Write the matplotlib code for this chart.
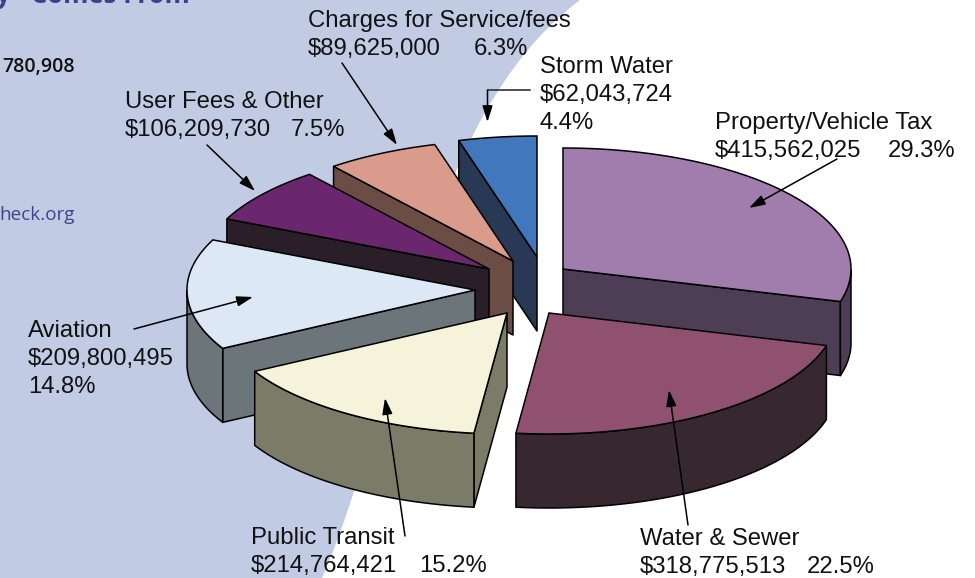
import numpy as np
from matplotlib import pyplot as plt
from matplotlib.patches import Polygon, PathPatch
from matplotlib.path import Path

names = ['Property/Vehicle Tax', 'Water & Sewer', 'Public Transit', 'Aviation',
         'User Fees & Other', 'Charges for Service/fees', 'Storm Water']
amounts = [415562025, 318775513, 214764421, 209800495, 106209730, 89625000, 62043724]

top_colors = ['#a07dac', '#905070', '#f5f3da', '#dce8f5', '#6b276e', '#da9b8c', '#4178bb']
wall_colors = ['#4e3e55', '#37282f', '#7a7c67', '#6c757a', '#2a1e28', '#6c4d46', '#293955']

# how far each slice is pulled out of the pie, in pixels
explode = [(38, -21), (24, 23), (-18, 23), (-50, 0), (-36, -21), (-12, -29), (12, -33)]
draw_order = [0, 6, 5, 4, 3, 1, 2]

cx, cy = 525, 290
rx, ry = 288, 121
depth = 74

# text: x of name, x of percent (None = own line), baseline of first line
label_pos = {
    0: (715, 888, 129),
    1: (640, 807, 545),
    2: (251, 419, 544),
    3: (28, None, 337),
    4: (125, 291, 108),
    5: (308, 474, 27),
    6: (540, None, 73),
}
arrows = [
    ((837, 159), (749, 208)),
    ((688, 525), (669, 390)),
    ((405, 536), (385, 398)),
    ((134, 329), (253, 297)),
    ((207, 145), (255, 191)),
    ((342, 63), (397, 145)),
]

plt.rcParams['font.family'] = ['Liberation Sans', 'DejaVu Sans']
fig = plt.figure(figsize=(9.75, 5.78), dpi=100)
ax = fig.add_axes([0, 0, 1, 1])
ax.set_xlim(0, 975)
ax.set_ylim(578, 0)
ax.axis('off')

# blue backdrop on the left
verts = [(0, 0), (580, 0), (420, 120), (400, 400), (322, 578), (0, 578), (0, 0)]
codes = [Path.MOVETO, Path.LINETO, Path.CURVE4, Path.CURVE4, Path.CURVE4, Path.LINETO, Path.CLOSEPOLY]
ax.add_patch(PathPatch(Path(verts, codes), fc='#c2cbe4', ec='none', zorder=0))

ax.text(190, 3, 'y   Comes From', fontfamily='Open Sans', fontweight='bold', fontsize=18.5,
        color='#3d408c', ha='right', va='baseline')
ax.text(75, 72, '780,908', fontfamily='Open Sans', fontweight='semibold', fontsize=14,
        color='#111111', ha='right', va='baseline')
ax.text(75, 220, 'heck.org', fontfamily='Open Sans', fontsize=13.6,
        color='#3d448c', ha='right', va='baseline')

# pie, angles run clockwise from 12 o'clock
total = sum(amounts)
ends = 90 - 360 * np.cumsum(amounts) / total
starts = np.r_[90, ends[:-1]]

def ell(ax0, ay0, t):
    t = np.radians(t)
    return np.c_[ax0 + rx * np.cos(t), ay0 - ry * np.sin(t)]

z = 2
for i in draw_order:
    ax0, ay0 = cx + explode[i][0], cy + explode[i][1]
    t = np.linspace(starts[i], ends[i], 120)
    arc = ell(ax0, ay0, t)
    apex = np.array([ax0, ay0])
    down = np.array([0, depth])
    kw = dict(fc=wall_colors[i], ec='black', lw=1.1, joinstyle='round')
    # only the cut faces turned to the viewer get drawn
    if np.cos(np.radians(t[0])) < 0:
        p = arc[0]
        ax.add_patch(Polygon([apex, p, p + down, apex + down], zorder=z, **kw))
    if np.cos(np.radians(t[-1])) > 0:
        p = arc[-1]
        ax.add_patch(Polygon([apex, p, p + down, apex + down], zorder=z, **kw))
    front = arc[np.sin(np.radians(t)) <= 0]
    if len(front) > 1:
        ax.add_patch(Polygon(np.r_[front, front[::-1] + down], zorder=z + 0.2, **kw))
    ax.add_patch(Polygon(np.r_[[apex], arc], fc=top_colors[i], ec='black', lw=1.1, zorder=z + 0.5))
    z += 1

# labels
size = 17.2
for i, name in enumerate(names):
    x, px, y = label_pos[i]
    pct = f'{100 * amounts[i] / total:.1f}%'
    ax.text(x, y, name, fontsize=size, color='#111111', va='baseline', zorder=20)
    ax.text(x, y + 28, f'${amounts[i]:,}', fontsize=size, color='#111111', va='baseline', zorder=20)
    if px is None:
        ax.text(x, y + 56, pct, fontsize=size, color='#111111', va='baseline', zorder=20)
    else:
        ax.text(px, y + 28, pct, fontsize=size, color='#111111', va='baseline', zorder=20)

# leader lines
for a, b in arrows:
    ax.annotate('', xy=b, xytext=a, zorder=21,
                arrowprops=dict(arrowstyle='-|>,head_length=0.7,head_width=0.22', color='black',
                                lw=1.1, mutation_scale=14, shrinkA=0, shrinkB=0))
ax.plot([530, 487.5], [90, 90], color='#222222', lw=1.1, zorder=21)
ax.annotate('', xy=(487.5, 122), xytext=(487.5, 90), zorder=21,
            arrowprops=dict(arrowstyle='-|>,head_length=0.7,head_width=0.22', color='black',
                            lw=1.1, mutation_scale=14, shrinkA=0, shrinkB=0))

fig.savefig('out.png', dpi=100)
